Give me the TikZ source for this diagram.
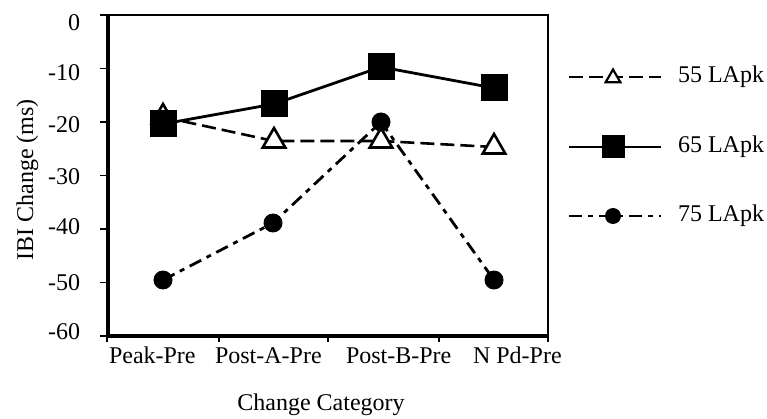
\documentclass[tikz,border=0pt]{standalone}
\usepackage{fontspec}
\setmainfont{Liberation Serif}
\usetikzlibrary{shapes.geometric}
\begin{document}
\begin{tikzpicture}[x=1pt,y=-1pt,
  lbl/.style={font=\fontsize{24}{28}\selectfont, inner sep=0pt, outer sep=0pt},
  sq/.style={rectangle, fill=black, minimum size=27pt, inner sep=0pt},
  tri/.style={regular polygon, regular polygon sides=3, draw=black, fill=white,
    line width=2.6pt, minimum size=26pt, inner sep=0pt},
  dot/.style={circle, fill=black, minimum size=19pt, inner sep=0pt},
  sqsmall/.style={sq, minimum size=23pt},
  trismall/.style={tri, line width=2.2pt, minimum size=17pt},
  dotsmall/.style={dot, minimum size=16pt},
  l55/.style={line width=2.6pt, dash pattern=on 14pt off 6pt},
  l65/.style={line width=2.8pt},
  l75/.style={line width=2.8pt, dash pattern=on 13pt off 6pt on 5pt off 6pt},
  tick/.style={line width=1.4pt}]
\useasboundingbox (0,0) rectangle (767,419);

% plot frame
\draw[line width=3.2pt] (108,14) -- (108,337.5);
\draw[line width=3.2pt] (106.5,336) -- (549,336);
\draw[line width=2.2pt] (107,15) -- (549,15);
\draw[line width=2pt] (548,14) -- (548,337);

% y ticks and labels
\foreach \k in {0,...,6} \draw[tick] (100,15+53.5*\k) -- (108,15+53.5*\k);
\node[lbl, anchor=east] (y0) at (80,22.5) {0};
\node[lbl, anchor=east] (y10) at (80,72.5) {-10};
\node[lbl, anchor=east] (y20) at (80,125) {-20};
\node[lbl, anchor=east] (y30) at (80,177) {-30};
\node[lbl, anchor=east] (y40) at (80,227) {-40};
\node[lbl, anchor=east] (y50) at (80,283) {-50};
\node[lbl, anchor=east] (y60) at (80,332) {-60};

% x ticks and category labels
\foreach \x in {107,219,328,439,548} \draw[tick] (\x,336) -- (\x,342);
\node[lbl, anchor=base west] (c1) at (109,363) {Peak-Pre};
\node[lbl, anchor=base west] (c2) at (215,363) {Post-A-Pre};
\node[lbl, anchor=base west] (c3) at (346,363) {Post-B-Pre};
\node[lbl, anchor=base west] (c4) at (473,363) {N Pd-Pre};

% axis titles
\node[lbl, anchor=base] (xt) at (321,410) {Change Category};
\node[lbl, anchor=base, rotate=90] (yt) at (33,180) {IBI Change (ms)};

% data positions
\coordinate (a1) at (163,117);
\coordinate (a2) at (274,141);
\coordinate (a3) at (381,141);
\coordinate (a4) at (494,147);
\coordinate (b1) at (163,124);
\coordinate (b2) at (274,104);
\coordinate (b3) at (381,67);
\coordinate (b4) at (494,88);
\coordinate (d1) at (163,280);
\coordinate (d2) at (273,223);
\coordinate (d3) at (381,122);
\coordinate (d4) at (494,280);

% 55 LApk
\draw[l55] (a1) -- (a2) -- (a3) -- (a4);
\foreach \p in {a1,a2,a3,a4} \node[tri] (m\p) at (\p) {};
% 65 LApk
\draw[l65] (b1) -- (b2) -- (b3) -- (b4);
% 75 LApk
\draw[l75] (d1) -- (d2) -- (d3) -- (d4);
\foreach \p in {b1,b2,b3,b4} \node[sq] (m\p) at (\p) {};
\foreach \p in {d1,d2,d3,d4} \node[dot] (m\p) at (\p) {};

% legend
\coordinate (la0) at (569,77);  \coordinate (la1) at (661,77);
\coordinate (lb0) at (569,147); \coordinate (lb1) at (661,147);
\coordinate (ld0) at (569,216); \coordinate (ld1) at (661,216);
\draw[l55] (la0) -- (la1);
\draw[l65] (lb0) -- (lb1);
\draw[l75] (ld0) -- (ld1);
\node[trismall] (lga) at (613,78) {};
\node[sqsmall] (lgb) at (613,147) {};
\node[dotsmall] (lgd) at (613,216) {};
\node[lbl, anchor=base west] (t55) at (678,83) {55 LApk};
\node[lbl, anchor=base west] (t65) at (678,153) {65 LApk};
\node[lbl, anchor=base west] (t75) at (678,222) {75 LApk};
\end{tikzpicture}
\end{document}
